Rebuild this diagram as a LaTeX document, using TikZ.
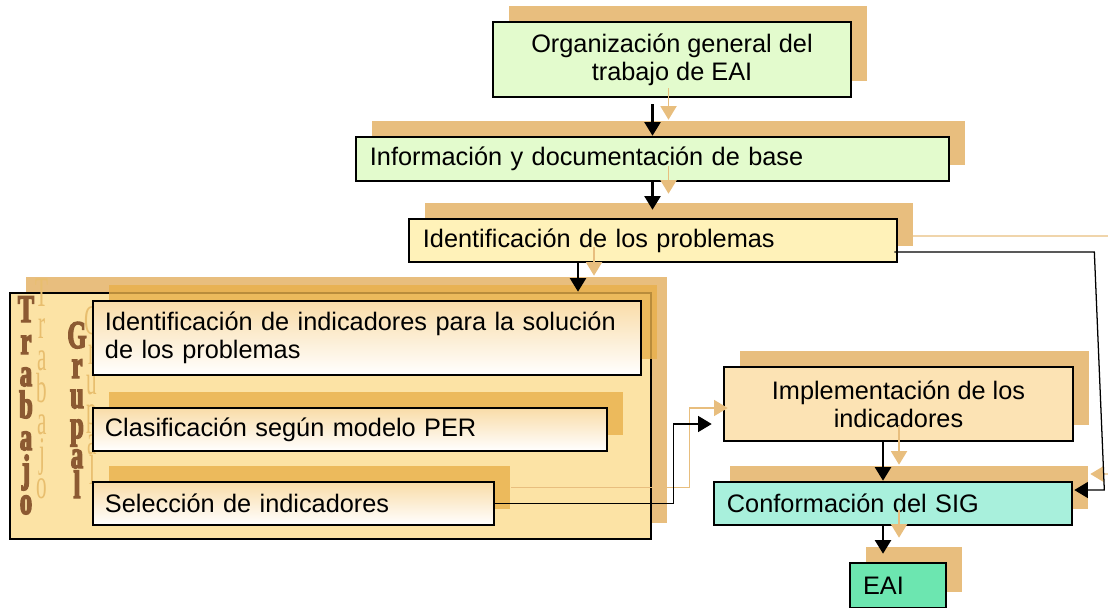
\documentclass[tikz,border=0pt]{standalone}
\usepackage{fontspec}
\setmainfont{Liberation Sans}
\newfontfamily\letrafont[FakeStretch=0.5]{Liberation Serif}
\newfontfamily\letrafuerte[FakeStretch=0.62, FakeBold=3.5]{Liberation Serif}
\usetikzlibrary{arrows.meta,shadows,calc}
\definecolor{ocre}{HTML}{E8BE7E}
\definecolor{naranja}{HTML}{E8B04A}
\definecolor{verdeclaro}{HTML}{E3FBCD}
\definecolor{amarillo}{HTML}{FFF2B9}
\definecolor{crema}{HTML}{FCE3A5}
\definecolor{cremaoscuro}{HTML}{F9DCA8}
\definecolor{melocoton}{HTML}{FCE3B4}
\definecolor{aguamarina}{HTML}{A8F0DC}
\definecolor{verdeagua}{HTML}{6CE6B0}
\definecolor{marron}{HTML}{8C5A32}
\definecolor{dorado}{HTML}{E8BE6E}
\tikzset{
  caja/.style={draw, line width=1.8pt, inner sep=0pt, font=\fontsize{18}{20}\selectfont},
  sombra/.style={drop shadow={shadow xshift=0.4cm, shadow yshift=0.4cm, fill=ocre, opacity=1}},
  sombrainterior/.style={drop shadow={shadow xshift=0.4cm, shadow yshift=0.4cm, fill=naranja, opacity=0.8}},
  interior/.style={caja, sombrainterior, top color=cremaoscuro, bottom color=white, align=left},
  flecha/.style={-{Triangle[length=0.34cm,width=0.4cm]}, line width=#1},
  flecha/.default=1.6pt,
  eco/.style={flecha=#1, draw=ocre, transform canvas={xshift=0.4cm, yshift=0.4cm}},
  eco/.default=1.3pt,
  letra/.style={anchor=base, inner sep=0pt, text=marron, font=\letrafuerte\fontsize{28}{28}\selectfont\bfseries},
  ecoletra/.style={anchor=base, inner sep=0pt, text=dorado, font=\letrafont\fontsize{30}{30}\selectfont}
}
\begin{document}
\begin{tikzpicture}[x=0.025cm, y=-0.025cm]
\clip (0,0) rectangle (1108,607);
% cadena superior
\node[caja, sombra, fill=verdeclaro, minimum width=8.95cm, minimum height=1.875cm, align=center] (org) at (672,59.5) {Organización general del\\trabajo de EAI};
\node[caja, sombra, fill=verdeclaro, minimum width=14.825cm, minimum height=1.1cm, text width=14.125cm, align=left] (info) at (652.5,159) {Información y documentación de base};
\node[caja, sombra, fill=amarillo, minimum width=12.2cm, minimum height=1.075cm, text width=11.5cm, align=left] (prob) at (653,240.5) {Identificación de los problemas};
% trabajo grupal
\node[caja, sombra, fill=crema, minimum width=16.025cm, minimum height=6.15cm] (grupo) at (330.5,416) {};
\foreach \l [count=\i] in {T,r,a,b,a,j,o}
  \node[ecoletra] (ecotrab\i) at (42,{306+32*(\i-1)}) {\l};
\foreach \l [count=\i] in {T,r,a,b,a,j,o}
  \node[letra] (trab\i) at (26,{322+32*(\i-1)}) {\l};
\foreach \l [count=\i] in {G,r,u,p,a,l}
  \node[ecoletra] (ecogrup\i) at (92,{334+30*(\i-1)}) {\l};
\foreach \l [count=\i] in {G,r,u,p,a,l}
  \node[letra] (grup\i) at (77,{348+30*(\i-1)}) {\l};
\node[interior, minimum width=13.7cm, minimum height=1.85cm, text width=13.1cm] (ind) at (367,338) {Identificación de indicadores para la solución\\de los problemas};
\node[interior, minimum width=12.85cm, minimum height=1.075cm, text width=12.25cm] (clas) at (350,429.5) {Clasificación según modelo PER};
\node[interior, minimum width=10.025cm, minimum height=1.075cm, text width=9.425cm] (sel) at (293.5,503.5) {Selección de indicadores};
% cadena inferior
\node[caja, sombra, fill=melocoton, minimum width=8.725cm, minimum height=1.85cm, align=center] (impl) at (898.5,404) {Implementación de los\\indicadores};
\node[caja, sombra, fill=aguamarina, minimum width=8.95cm, minimum height=1.075cm, text width=8.3cm, align=left] (sig) at (893,503.5) {Conformación del SIG};
\node[caja, sombra, fill=verdeagua, minimum width=2.4cm, minimum height=1.125cm, text width=1.75cm, align=left] (eai) at (898,585.5) {EAI};
% conectores
\coordinate (p1) at ($(prob.south)+(-75,0)$);
\coordinate (p2) at ($(prob.east)+(-4,11.5)$);
\coordinate (p3) at ($(sig.east)+(31,-13.5)$);
\coordinate (p4) at ($(sig.east)+(1,-13.5)$);
\coordinate (p5) at ($(impl.west)+(-11,20)$);
\coordinate (p6) at ($(impl.south)+(-15.5,0)$);
\draw[eco, shorten <=0.15cm] (org.south -| info.north) -- (info.north);
\draw[eco, shorten >=0.2cm] (info.south) -- (info.south |- prob.north);
\draw[eco] (p1) -- (p1 |- grupo.north);
\draw[eco=1pt] (p2) -- ++(200,0) -- (p3) -- (p4);
\draw[eco=1pt] (sel.east) -- ++(178,0) |- (p5);
\draw[eco] (p6) -- (p6 |- sig.north);
\draw[eco, shorten >=0.2cm] (p6 |- sig.south) -- (p6 |- eai.north);
\draw[flecha, shorten <=0.15cm] (org.south -| info.north) -- (info.north);
\draw[flecha, shorten >=0.2cm] (info.south) -- (info.south |- prob.north);
\draw[flecha] (p1) -- (p1 |- grupo.north);
\draw[flecha=0.9pt] (p2) -- ++(200,0) -- (p3) -- (p4);
\draw[flecha=0.9pt] (sel.east) -- ++(178,0) |- (p5);
\draw[flecha] (p6) -- (p6 |- sig.north);
\draw[flecha, shorten >=0.2cm] (p6 |- sig.south) -- (p6 |- eai.north);
\end{tikzpicture}
\end{document}
